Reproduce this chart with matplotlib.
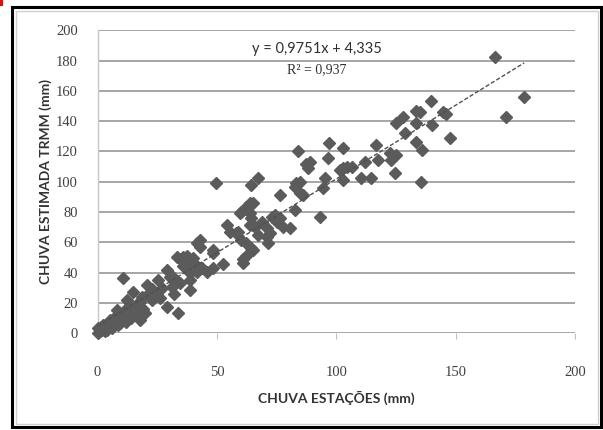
import numpy as np
import matplotlib
matplotlib.use('Agg')
import matplotlib.pyplot as plt
from matplotlib.patches import Rectangle

# rainfall observed at stations (mm) vs TRMM estimate (mm)
estacoes = [0, 0, 1, 1.5, 2, 2.4, 3, 3.8, 4, 5.2, 5, 6, 6.5, 7.3, 8, 8.5, 9.4, 10,
            10.8, 11, 11.5, 12.2, 12, 13.6, 14, 15, 15.5, 16.4, 17, 17.8, 17.8, 18.5,
            19, 20, 20.6, 21, 22.7, 23, 24.8, 25.4, 26.2, 27, 29, 29, 30.3, 31, 31.7,
            32, 33.1, 33.8, 34.5, 34.7, 35.9, 35.9, 36.6, 37.3, 37.3, 38.7, 38.7, 38.7,
            40.1, 40.8, 41.5, 41.5, 42.9, 42.9, 43.6, 45.7, 48.5, 48.5, 48.5, 49.6,
            52.6, 54.1, 55.4, 58.2, 58.9, 59.6, 60.3, 60.3, 61, 61, 62.4, 62.4, 62.4,
            63.8, 63.8, 63.8, 64.1, 64.5, 64.5, 65.2, 65.2, 65.9, 67.3, 67.3, 68.7,
            70.8, 70.8, 71.5, 72.2, 72.9, 74.3, 75, 76.4, 76.4, 77.7, 80.5, 82.6, 82.6,
            83.3, 84, 84.7, 84.7, 86.1, 87.5, 88.2, 88.9, 93.1, 94.5, 95.2, 96.6, 97,
            101.5, 102.8, 102.8, 102.8, 104.3, 106.4, 110.5, 111.9, 114.7, 116.8,
            117.5, 122.4, 123.1, 124.5, 125.2, 125.2, 128, 128.7, 133.3, 133.6, 133.6,
            135, 135.6, 136, 139.8, 140.2, 144.7, 146, 147.5, 166.3, 171.2, 178.7]
trmm = [0, 3, 1, 4, 2, 5.3, 1, 2, 6, 8.6, 4, 3, 7, 10.8, 15.2, 5, 6.4, 9,
        36.2, 12, 15.2, 21.8, 7, 18.5, 10, 27.3, 14, 11.9, 20, 8.6, 20.7, 24,
        16, 13, 31.7, 26, 21.8, 29, 26.2, 35, 22.9, 30, 17.4, 41.6, 37.2, 30.6, 37.2,
        26, 50.4, 13, 32.8, 48.6, 44, 50.4, 47.1, 42.8, 50.7, 28.4, 35, 39.4,
        49.3, 45.3, 40.5, 59.3, 61.8, 57, 43, 40.5, 55, 43, 52.7, 99.3,
        45.3, 71.4, 67, 65.9, 67, 79.1, 61.8, 80.2, 48.6, 46.4, 59.6, 50.7, 83.5,
        85.7, 71.4, 79.1, 97.8, 75.8, 56.3, 54.9, 85.7, 70.3, 102.2, 64.8, 73.6,
        69.2, 63.6, 59.3, 65.9, 76.9, 78, 73.6, 75.8, 91.2, 70.3, 69.2, 81.3, 96.7,
        98.9, 120.3, 92.3, 100, 91.2, 112, 108.9, 113.2, 77, 95.6, 102.2, 115.5, 125.8,
        107.7, 122.1, 108.9, 101.1, 109.9, 109.5, 102.2, 113.2, 102.2, 124.3,
        114.3, 118.8, 114.3, 105.5, 117.6, 138.6, 142.6, 132, 139, 146.9, 126.4,
        146, 100, 121, 153.5, 137.5, 146.3, 145, 128.7, 182.6, 143, 156.2]

slope = 0.9751
intercept = 4.335
r2 = 0.937

W, H = 603, 430
fig = plt.figure(figsize=(W / 100, H / 100), dpi=100)

# outer frame and inner chart border
fig.add_artist(Rectangle((12 / W, 3 / H), 589 / W, 420 / H, transform=fig.transFigure,
                         fill=False, edgecolor='black', linewidth=2.2))
fig.add_artist(Rectangle((15.5 / W, 6.5 / H), 582 / W, 413 / H, transform=fig.transFigure,
                         fill=False, edgecolor='#d0d0d0', linewidth=1.0))
fig.add_artist(Rectangle((0, 1 - 6 / H), 3 / W, 6 / H, transform=fig.transFigure,
                         color='red', linewidth=0))

ax = fig.add_axes([97.5 / W, 1 - 333 / H, 477.5 / W, 302.5 / H])
ax.set_xlim(0, 200)
ax.set_ylim(0, 200)
ax.set_xticks([0, 50, 100, 150, 200])
ax.set_yticks(range(0, 201, 20))
ax.yaxis.grid(True, color='#a6a6a6', linewidth=1.4)
ax.set_axisbelow(True)

for s in ['top', 'right', 'bottom']:
    ax.spines[s].set_visible(False)
ax.spines['left'].set_color('#c8c8c8')
ax.spines['left'].set_linewidth(1.0)

ax.tick_params(axis='y', length=0, pad=14, labelsize=10.5, colors='#404040')
ax.tick_params(axis='x', length=4, width=0.8, color='#c0c0c0', pad=20,
               labelsize=10.5, labelcolor='#404040')
for lab in ax.get_xticklabels() + ax.get_yticklabels():
    lab.set_family('Liberation Serif')

ax.plot(estacoes, trmm, linestyle='none', marker='D', markersize=6.5,
        color='#5b5b5b', clip_on=False, zorder=3)

xf = np.array([0, max(estacoes)])
ax.plot(xf, slope * xf + intercept, linestyle=(0, (3, 1.5)), color='#505050',
        linewidth=1.0, zorder=4)

ax.text(92, 188, 'y = 0,9751x + 4,335', ha='center', va='center',
        fontsize=10.5, family='Lato', color='#303030')
ax.text(92, 174, 'R² = 0,937', ha='center', va='center',
        fontsize=10, family='Liberation Serif', color='#303030')

ax.set_xlabel('CHUVA ESTAÇÕES (mm)', fontsize=10, fontweight='bold',
              family='Lato', color='#333333', labelpad=8)
ax.set_ylabel('CHUVA ESTIMADA TRMM (mm)', fontsize=10, fontweight='bold',
              family='Lato', color='#333333', labelpad=3)

fig.savefig('out.png', dpi=100)
